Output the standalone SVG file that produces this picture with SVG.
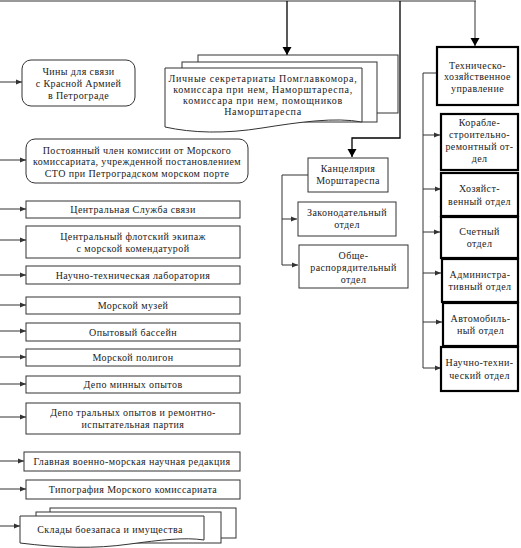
<svg xmlns="http://www.w3.org/2000/svg" width="521" height="548" viewBox="0 0 521 548">
<style>
text{font-family:"Liberation Serif","Times New Roman",serif;font-size:10px;fill:#222;text-anchor:middle;letter-spacing:0.4px}
.w text{letter-spacing:0.7px}
.b{fill:#fff;stroke:#333;stroke-width:1}
.t{fill:#fff;stroke:#000;stroke-width:2.2}
.c{fill:none;stroke:#333;stroke-width:1}
.k{fill:none;stroke:#000;stroke-width:1.3}
</style>
<defs>
<marker id="a" markerWidth="7" markerHeight="6" refX="6" refY="3" orient="auto" markerUnits="userSpaceOnUse"><path d="M0,0.5 L6,3 L0,5.5 Z" fill="#333"/></marker>
<marker id="d" markerWidth="10" markerHeight="10" refX="8" refY="4.5" orient="auto" markerUnits="userSpaceOnUse"><path d="M0,0 L8,4.5 L0,9 Z" fill="#000"/></marker>
</defs>
<g id="connectors">
<path class="c" d="M0,1 H476" stroke="#555" stroke-width="1.5"/>
<path class="k" d="M287,1 V55" marker-end="url(#d)"/>
<path class="k" d="M400,1 V138 H352 V157" marker-end="url(#d)"/>
<path class="c" d="M475,1 V46" stroke="#555" stroke-width="1.5" marker-end="url(#d)"/>
<path class="c" d="M308,175 H282 V265"/>
<path class="c" d="M282,219 H297" marker-end="url(#a)"/>
<path class="c" d="M282,265 H298" marker-end="url(#a)"/>
<path class="c" d="M437,73 H423 V368"/>
<path class="c" d="M423,135 H440" marker-end="url(#a)"/>
<path class="c" d="M423,189 H441" marker-end="url(#a)"/>
<path class="c" d="M423,232 H440" marker-end="url(#a)"/>
<path class="c" d="M423,273 H441" marker-end="url(#a)"/>
<path class="c" d="M423,322 H442" marker-end="url(#a)"/>
<path class="c" d="M423,368 H441" marker-end="url(#a)"/>
<path class="c" d="M0,82 H22" marker-end="url(#a)"/>
<path class="c" d="M0,160 H26" marker-end="url(#a)"/>
<path class="c" d="M0,209 H26" marker-end="url(#a)"/>
<path class="c" d="M0,240 H26" marker-end="url(#a)"/>
<path class="c" d="M0,275 H26" marker-end="url(#a)"/>
<path class="c" d="M0,305 H26" marker-end="url(#a)"/>
<path class="c" d="M0,331 H26" marker-end="url(#a)"/>
<path class="c" d="M0,357 H26" marker-end="url(#a)"/>
<path class="c" d="M0,384 H26" marker-end="url(#a)"/>
<path class="c" d="M0,417 H26" marker-end="url(#a)"/>
<path class="c" d="M0,461 H24" marker-end="url(#a)"/>
<path class="c" d="M0,489 H26" marker-end="url(#a)"/>
<path class="c" d="M0,526 H20" marker-end="url(#a)"/>
</g>
<g id="chiny"><rect class="b" x="22" y="60" width="113" height="46" rx="9"/>
<text x="78.5" y="75">Чины для связи</text><text x="78.5" y="87">с Красной Армией</text><text x="78.5" y="99">в Петрограде</text></g>
<g id="sekretariaty" class="w">
<rect class="b" x="198" y="55" width="200" height="58"/>
<rect class="b" x="182" y="62" width="195" height="60"/>
<path class="b" d="M165,68 H362 V122 C335,117 300,122 262,128 C225,134 192,133 165,127 Z"/>
<text x="263" y="82">Личные секретариаты Помглавкомора,</text>
<text x="263" y="93">комиссара при нем, Наморштареспа,</text>
<text x="263" y="104">комиссара при нем, помощников</text>
<text x="263" y="115">Наморштареспа</text></g>
<g id="postoyanny"><rect class="b" x="26" y="139" width="222" height="44" rx="9"/>
<text x="137" y="154">Постоянный член комиссии от Морского</text>
<text x="137" y="165">комиссариата, учрежденной постановлением</text>
<text x="137" y="177">СТО при Петроградском морском порте</text></g>
<g id="sluzhba"><rect class="b" x="26" y="201" width="214" height="17"/><text x="133" y="213">Центральная Служба связи</text></g>
<g id="ekipazh"><rect class="b" x="26" y="226" width="214" height="32"/><text x="133" y="240">Центральный флотский экипаж</text><text x="133" y="252">с морской комендатурой</text></g>
<g id="laboratoriya"><rect class="b" x="26" y="266" width="214" height="18"/><text x="133" y="278.5">Научно-техническая лаборатория</text></g>
<g id="muzei"><rect class="b" x="26" y="297" width="214" height="17"/><text x="133" y="309">Морской музей</text></g>
<g id="bassein"><rect class="b" x="26" y="323" width="214" height="18"/><text x="133" y="335.5">Опытовый бассейн</text></g>
<g id="poligon"><rect class="b" x="26" y="349" width="214" height="17"/><text x="133" y="361">Морской полигон</text></g>
<g id="depo-min"><rect class="b" x="26" y="376" width="214" height="17"/><text x="133" y="388">Депо минных опытов</text></g>
<g id="depo-tral"><rect class="b" x="26" y="403" width="214" height="31"/><text x="133" y="416">Депо тральных опытов и ремонтно-</text><text x="133" y="428">испытательная партия</text></g>
<g id="redaktsiya"><rect class="b" x="24" y="452" width="216" height="19"/><text x="132" y="465">Главная военно-морская научная редакция</text></g>
<g id="tipografiya"><rect class="b" x="26" y="480" width="214" height="19"/><text x="133" y="493">Типография Морского комиссариата</text></g>
<g id="sklady">
<rect class="b" x="50" y="508" width="186" height="30"/>
<rect class="b" x="36" y="512" width="185" height="31"/>
<path class="b" d="M20,516 H204 V540 C185,537 160,540 130,544 C95,549 60,548 20,543 Z"/>
<text x="110" y="533">Склады боезапаса и имущества</text></g>
<g id="kantselyariya"><rect class="b" x="308" y="158" width="80" height="34"/><text x="348" y="172">Канцелярия</text><text x="348" y="184">Морштареспа</text></g>
<g id="zakonodatelny"><rect class="b" x="298" y="202" width="98" height="34"/><text x="347" y="216">Законодательный</text><text x="347" y="228">отдел</text></g>
<g id="obshche"><rect class="b" x="299" y="245" width="109" height="43"/><text x="353.5" y="259">Обще-</text><text x="353.5" y="271">распорядительный</text><text x="353.5" y="283">отдел</text></g>
<g id="tekhnicheskoe"><rect class="t" x="437" y="47" width="81" height="58"/><text x="477.5" y="69">Техническо-</text><text x="477.5" y="80">хозяйственное</text><text x="477.5" y="92">управление</text></g>
<g id="korable"><rect class="t" x="441" y="114" width="77" height="56"/><text x="479.5" y="126">Корабле-</text><text x="479.5" y="138">строительно-</text><text x="479.5" y="150">ремонтный от-</text><text x="479.5" y="162">дел</text></g>
<g id="khozyaistvenny"><rect class="t" x="441" y="173" width="77" height="43"/><text x="479.5" y="192">Хозяйст-</text><text x="479.5" y="205">венный отдел</text></g>
<g id="schetny"><rect class="t" x="441" y="217" width="77" height="41"/><text x="479.5" y="235">Счетный</text><text x="479.5" y="247">отдел</text></g>
<g id="administrativny"><rect class="t" x="442" y="259" width="76" height="43"/><text x="480" y="278">Администра-</text><text x="480" y="290">тивный отдел</text></g>
<g id="avtomobilny"><rect class="t" x="443" y="303" width="75" height="43"/><text x="480.5" y="322">Автомобиль-</text><text x="480.5" y="334">ный отдел</text></g>
<g id="nauchno-tekh"><rect class="t" x="441" y="347" width="77" height="44"/><text x="479.5" y="366">Научно-техни-</text><text x="479.5" y="379">ческий отдел</text></g>
</svg>
